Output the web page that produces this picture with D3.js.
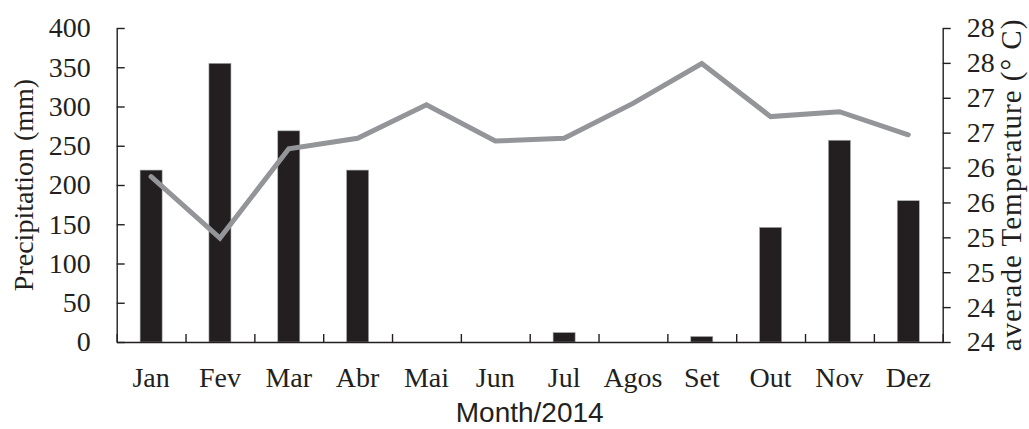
<!DOCTYPE html>
<html>
<head>
<meta charset="utf-8">
<script src="https://cdn.jsdelivr.net/npm/d3@7"></script>
<style>
    body { margin: 0; background: #fff; }
    svg text { fill: #231f20; }
    .serif text, text.serif { font-family: "Liberation Serif", "Times New Roman", serif; font-size: 28px; }
</style>
</head>
<body>
<svg id="chart" width="1029" height="429"></svg>
<script>
const months = ['Jan', 'Fev', 'Mar', 'Abr', 'Mai', 'Jun', 'Jul', 'Agos', 'Set', 'Out', 'Nov', 'Dez'];
const precipitation = [219, 355, 269, 219, 0, 0, 12, 0, 7, 146, 257, 180];
const temperature = [26.37, 25.49, 26.77, 26.92, 27.40, 26.88, 26.92, 27.42, 27.99, 27.23, 27.30, 26.97];
const precipTicks = [0, 50, 100, 150, 200, 250, 300, 350, 400];
const tempTicks = [24, 24.5, 25, 25.5, 26, 26.5, 27, 27.5, 28, 28.5];
const tempTickLabels = ['24', '24', '25', '25', '26', '26', '27', '27', '28', '28'];

const svg = d3.select('#chart');
const margin = { top: 28, right: 86.3, bottom: 87, left: 116.7 };
const width = +svg.attr('width');
const height = +svg.attr('height');
const plotWidth = width - margin.left - margin.right;
const plotHeight = height - margin.top - margin.bottom;
const ink = '#231f20';

const xScale = d3.scaleBand().domain(months).range([0, plotWidth]);
const edgeScale = d3.scaleLinear().domain([0, months.length]).range([0, plotWidth]);
const yLeft = d3.scaleLinear().domain([0, 400]).range([plotHeight, 0]);
const yRight = d3.scaleLinear().domain([24, 28.5]).range([plotHeight, 0]);

const g = svg.append('g')
    .attr('transform', `translate(${margin.left},${margin.top})`);

// bars
const barWidth = xScale.bandwidth() * 0.32;
g.selectAll('rect.bar')
    .data(precipitation)
    .enter()
    .append('rect')
    .attr('class', 'bar')
    .attr('x', (d, i) => xScale(months[i]) + (xScale.bandwidth() - barWidth) / 2)
    .attr('y', d => yLeft(d))
    .attr('width', barWidth)
    .attr('height', d => plotHeight - yLeft(d))
    .attr('fill', ink)
    .attr('stroke', '#a7a9ac')
    .attr('stroke-width', 0.6);

// temperature line
const lineGen = d3.line()
    .x((d, i) => xScale(months[i]) + xScale.bandwidth() / 2)
    .y(d => yRight(d));

g.append('path')
    .datum(temperature)
    .attr('d', lineGen)
    .attr('fill', 'none')
    .attr('stroke', '#939598')
    .attr('stroke-width', 5)
    .attr('stroke-linejoin', 'miter')
    .attr('stroke-linecap', 'round');

function styleAxis(sel) {
    sel.selectAll('path, line').attr('stroke', ink).attr('stroke-width', 1.4);
    sel.selectAll('text').attr('fill', ink);
}

// left axis, ticks point inward
g.append('g')
    .attr('class', 'serif')
    .call(d3.axisLeft(yLeft).tickValues(precipTicks).tickSize(-8).tickSizeOuter(0).tickPadding(26))
    .call(styleAxis)
    .call(s => s.selectAll('text').attr('font-family', null).attr('font-size', null));

// right axis, ticks point outward
g.append('g')
    .attr('class', 'serif')
    .attr('transform', `translate(${plotWidth},0)`)
    .call(d3.axisRight(yRight).tickValues(tempTicks).tickSize(8).tickSizeOuter(0).tickPadding(16)
        .tickFormat((d, i) => tempTickLabels[i]))
    .call(styleAxis)
    .call(s => s.selectAll('text').attr('font-family', null).attr('font-size', null));

// bottom axis: boundary ticks
g.append('g')
    .attr('transform', `translate(0,${plotHeight})`)
    .call(d3.axisBottom(edgeScale).tickValues(d3.range(months.length + 1)).tickSize(-8).tickSizeOuter(0).tickFormat(''))
    .call(styleAxis);

// bottom axis: month labels
g.append('g')
    .attr('class', 'serif')
    .attr('transform', `translate(0,${plotHeight})`)
    .call(d3.axisBottom(xScale).tickSize(0).tickPadding(25))
    .call(s => s.select('.domain').remove())
    .call(s => s.selectAll('text').attr('font-family', null).attr('font-size', null).attr('fill', ink));

// axis titles
svg.append('text')
    .attr('class', 'serif')
    .attr('transform', `translate(33,${margin.top + plotHeight / 2}) rotate(-90)`)
    .attr('text-anchor', 'middle')
    .text('Precipitation (mm)');

svg.append('text')
    .attr('class', 'serif')
    .attr('transform', `translate(1021,${margin.top + plotHeight / 2}) rotate(-90)`)
    .attr('text-anchor', 'middle')
    .attr('letter-spacing', 1)
    .style('font-size', '29px')
    .text('averade Temperature (° C)');

svg.append('text')
    .attr('x', margin.left + plotWidth / 2)
    .attr('y', 422)
    .attr('text-anchor', 'middle')
    .attr('font-family', '"Liberation Sans", Arial, sans-serif')
    .attr('font-size', 28)
    .attr('fill', ink)
    .text('Month/2014');
</script>
</body>
</html>
